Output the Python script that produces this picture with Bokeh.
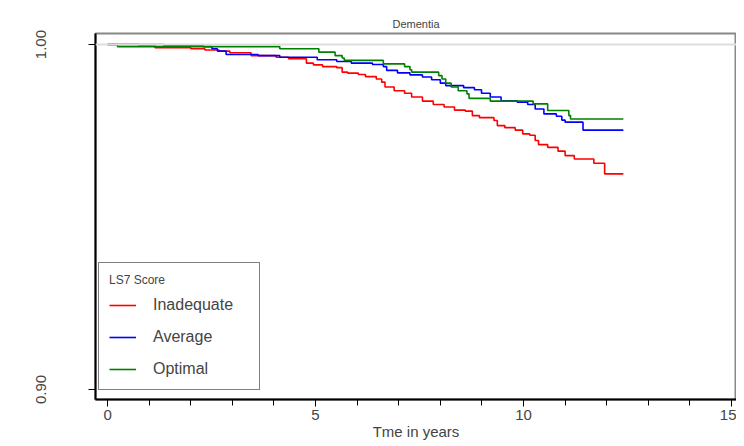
from bokeh.plotting import figure
from bokeh.embed import file_html
from bokeh.resources import INLINE
from bokeh.models import Range1d, FixedTicker, Span, Legend, LegendItem, CustomJSTickFormatter

# Kaplan-Meier estimates (time in years, survival)
t_inadequate = [0, 0.75, 1.14, 2.0, 2.34, 2.68, 2.94, 3.45, 4.05, 4.35, 4.78, 4.95, 5.17, 5.51,
                5.64, 5.77, 6.03, 6.2, 6.46, 6.59, 6.67, 6.89, 7.14, 7.31, 7.57, 7.83, 8.09,
                8.34, 8.6, 8.77, 8.94, 9.29, 9.37, 9.55, 9.8, 9.98, 10.15, 10.28, 10.36, 10.58,
                10.83, 11.0, 11.22, 11.69, 11.95, 12.4]
s_inadequate = [1.0, 0.9997, 0.9991, 0.9988, 0.9984, 0.9981, 0.9976, 0.9968, 0.9963, 0.9959,
                0.9946, 0.9941, 0.9936, 0.9933, 0.9920, 0.9917, 0.9913, 0.9907, 0.9900, 0.9891,
                0.9877, 0.9866, 0.9859, 0.9848, 0.9836, 0.9826, 0.9819, 0.9810, 0.9807, 0.9794,
                0.9788, 0.9780, 0.9765, 0.9759, 0.9752, 0.9741, 0.9737, 0.9722, 0.9710, 0.9702,
                0.9691, 0.9678, 0.9668, 0.9656, 0.9625, 0.9625]
t_average = [0, 1.35, 2.3, 2.51, 2.64, 2.85, 3.62, 4.14, 5.04, 5.51, 5.86, 6.37, 6.63, 6.71,
             6.97, 7.27, 7.57, 7.79, 8.0, 8.13, 8.56, 8.82, 8.99, 9.2, 9.46, 9.85, 10.1, 10.28,
             10.49, 10.79, 10.92, 11.0, 11.43, 12.4]
s_average = [1.0, 0.9997, 0.9994, 0.9988, 0.9981, 0.9971, 0.9968, 0.9963, 0.9956, 0.9951,
             0.9946, 0.9942, 0.9936, 0.9925, 0.9918, 0.9912, 0.9906, 0.9898, 0.9888, 0.9881,
             0.9875, 0.9869, 0.9859, 0.9848, 0.9837, 0.9833, 0.9826, 0.9813, 0.9799, 0.9792,
             0.9781, 0.9775, 0.9752, 0.9752]
t_optimal = [0, 0.24, 4.14, 5.08, 5.47, 5.64, 5.69, 6.63, 7.14, 7.27, 7.31, 7.96, 8.04, 8.13,
             8.26, 8.43, 8.64, 8.69, 9.2, 10.23, 10.58, 11.09, 11.13, 12.4]
s_optimal = [1.0, 0.9994, 0.9988, 0.9978, 0.9968, 0.9961, 0.9954, 0.9944, 0.9936, 0.9927,
             0.9920, 0.9910, 0.9900, 0.9888, 0.9877, 0.9866, 0.9857, 0.9844, 0.9836, 0.9828,
             0.9809, 0.9794, 0.9784, 0.9784]

x_ticks = [0, 5, 10, 15]
y_ticks = [0.90, 1.00]

FONT = "Liberation Sans"

p = figure(width=736, height=442, output_backend="svg", toolbar_location=None,
           x_range=Range1d(-0.29, 15.12), y_range=Range1d(0.8971, 1.0032),
           min_border_left=95, min_border_right=0, min_border_top=33, min_border_bottom=35)
p.title.text = "Dementia"
p.title.align = "center"
p.title.text_font = FONT
p.title.text_font_size = "11px"
p.title.text_font_style = "normal"
p.title.standoff = 8

p.grid.visible = False
p.outline_line_color = "#888888"
p.outline_line_width = 2
p.background_fill_color = "white"

p.add_layout(Span(location=1.0, dimension="width", line_color="#dddddd", line_width=2))

r1 = p.step(t_inadequate, s_inadequate, mode="after", line_color="red", line_width=1.6)
r2 = p.step(t_average, s_average, mode="after", line_color="blue", line_width=1.6)
r3 = p.step(t_optimal, s_optimal, mode="after", line_color="green", line_width=1.6)

xa = p.xaxis[0]
xa.ticker = FixedTicker(ticks=x_ticks, minor_ticks=list(range(0, 16)))
xa.axis_label = "Tme in years"
xa.axis_label_text_font = FONT
xa.axis_label_text_font_style = "normal"
xa.axis_label_text_font_size = "15px"
xa.axis_label_standoff = 0
xa.major_label_text_font = FONT
xa.major_label_text_font_size = "15px"
xa.major_tick_out = 7
xa.major_tick_in = 0
xa.minor_tick_out = 6
xa.minor_tick_in = 0
xa.axis_line_width = 2
xa.major_label_standoff = 3

ya = p.yaxis[0]
ya.ticker = FixedTicker(ticks=y_ticks)
ya.formatter = CustomJSTickFormatter(code="return tick.toFixed(2);")
ya.major_label_orientation = "vertical"
ya.major_label_text_font = FONT
ya.major_label_text_font_size = "15px"
ya.major_tick_out = 7
ya.major_tick_in = 0
ya.minor_tick_out = 0
ya.minor_tick_in = 0
ya.axis_line_width = 2
ya.major_label_standoff = 42

legend = Legend(items=[LegendItem(label="Inadequate", renderers=[r1]),
                       LegendItem(label="Average", renderers=[r2]),
                       LegendItem(label="Optimal", renderers=[r3])],
                location=(3, 9), title="LS7 Score")
legend.title_text_font = FONT
legend.title_text_font_size = "12px"
legend.title_text_font_style = "normal"
legend.title_standoff = 8
legend.label_text_font = FONT
legend.label_text_font_size = "16px"
legend.border_line_color = "black"
legend.border_line_width = 1
legend.padding = 10
legend.spacing = 12
legend.glyph_width = 27
legend.label_standoff = 17
legend.label_width = 96
legend.margin = 0
p.add_layout(legend)

open("out.html", "w").write(file_html(p, INLINE))
